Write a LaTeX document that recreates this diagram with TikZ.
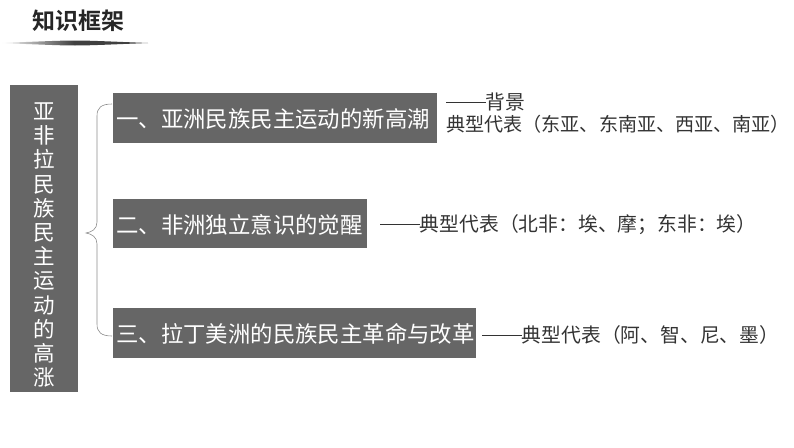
\documentclass[tikz,border=0pt]{standalone}
\usepackage{fontspec}
\setmainfont{Noto Sans CJK SC}
\newfontfamily\cjkb{Noto Sans CJK SC Bold}
\newcommand{\longdash}{\rule[0.33em]{2em}{0.045em}}
\begin{document}
\begin{tikzpicture}[x=1pt,y=-1pt,
  boxtext/.style={font=\fontsize{22.4}{24}\selectfont,text=white,anchor=west,inner sep=0pt},
  sidetext/.style={font=\fontsize{19.8}{22}\selectfont,text=black!80,anchor=west,inner sep=0pt}]
\definecolor{boxgray}{HTML}{666666}
\useasboundingbox (0,0) rectangle (794,447);
% title
\node[font=\cjkb\fontsize{23}{24}\selectfont,text=black!85,anchor=center] (title) at (78,21) {知识框架};
\shade[left color=white,right color=black!75,middle color=black!75] (0,43) .. controls (40,41.5) and (60,40.5) .. (75,40.5) .. controls (90,40.5) and (110,41.5) .. (148,43) .. controls (110,44.5) and (90,45.5) .. (75,45.5) .. controls (60,45.5) and (40,44.5) .. (0,43) -- cycle;
% left box
\fill[boxgray] (10,85) rectangle (78,392);
\node[font=\fontsize{21.5}{24.2}\selectfont,text=white,align=center,inner sep=0pt] (main) at (44,245) {亚\\非\\拉\\民\\族\\民\\主\\运\\动\\的\\高\\涨};
% brace
\draw[black!45,line width=0.6pt] (112,104) .. controls (101,104) and (97,108) .. (97,116) -- (97,222) .. controls (97,229) and (92,232) .. (86,233) .. controls (92,234) and (97,237) .. (97,244) -- (97,324) .. controls (97,332) and (101,336) .. (112,336);
% boxes
\fill[boxgray] (113,93) rectangle (437,143);
\node[boxtext] (b1) at (116,119) {一、亚洲民族民主运动的新高潮};
\fill[boxgray] (113,199) rectangle (367,248);
\node[boxtext] (b2) at (116,224.5) {二、非洲独立意识的觉醒};
\fill[boxgray] (113,308) rectangle (476,358);
\node[boxtext] (b3) at (116,334) {三、拉丁美洲的民族民主革命与改革};
% side texts
\node[sidetext] (s1a) at (446,102) {\longdash 背景};
\node[sidetext,font=\fontsize{19.1}{22}\selectfont] (s1b) at (446,124) {典型代表（东亚、东南亚、西亚、南亚）};
\node[sidetext] (s2) at (380,225) {\longdash 典型代表（北非：埃、摩；东非：埃）};
\node[sidetext] (s3) at (482,335) {\longdash 典型代表（阿、智、尼、墨）};
\end{tikzpicture}
\end{document}
